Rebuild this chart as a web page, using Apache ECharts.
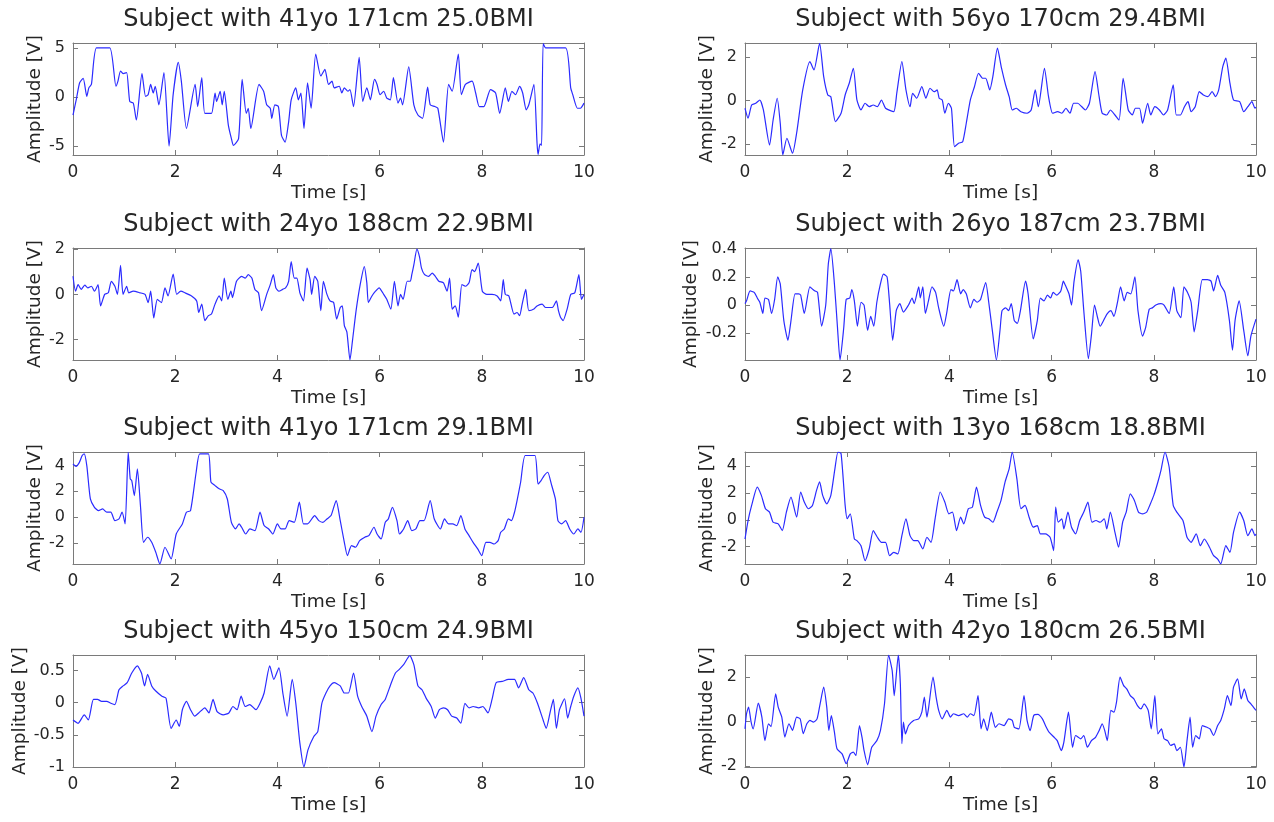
<!DOCTYPE html>
<html>
<head>
<meta charset="utf-8">
<script src="https://cdn.jsdelivr.net/npm/echarts@6/dist/echarts.min.js"></script>
<style>html,body{margin:0;padding:0;background:#fff}#c{width:1274px;height:822px}</style>
</head>
<body>
<div id="c"></div>
<script>
// ---- data (time [s], amplitude [V]) ----
const titles = [
  "Subject with 41yo 171cm 25.0BMI","Subject with 56yo 170cm 29.4BMI",
  "Subject with 24yo 188cm 22.9BMI","Subject with 26yo 187cm 23.7BMI",
  "Subject with 41yo 171cm 29.1BMI","Subject with 13yo 168cm 18.8BMI",
  "Subject with 45yo 150cm 24.9BMI","Subject with 42yo 180cm 26.5BMI"
];
const xTicks = [0, 2, 4, 6, 8, 10];
const yTicks1 = [-5, 0, 5];
const yTicks2 = [-2, 0, 2];
const yTicks3 = [-2, 0, 2];
const yTicks4 = [-0.2, 0, 0.2, 0.4];
const yTicks5 = [-2, 0, 2, 4];
const yTicks6 = [-2, 0, 2, 4];
const yTicks7 = [-1, -0.5, 0, 0.5];
const yTicks8 = [-2, 0, 2];
const yRange1 = [-5.9, 5.5];
const yRange2 = [-2.5, 2.65];
const yRange3 = [-2.9, 2.05];
const yRange4 = [-0.39, 0.405];
const yRange5 = [-3.6, 5.03];
const yRange6 = [-3.3, 5.07];
const yRange7 = [-1.0, 0.74];
const yRange8 = [-2.05, 3.0];

const sig1 = [[0,-1.83],[0.07,-0.1],[0.13,1.45],[0.2,1.9],[0.27,0.07],[0.31,0.93],[0.36,1.28],[0.46,5.0],[0.72,5.0],[0.84,1.1],[0.88,1.62],[0.93,2.65],[0.98,2.38],[1.05,2.48],[1.11,-0.45],[1.18,-0.62],[1.24,-2.34],[1.35,2.38],[1.42,0.07],[1.47,0.24],[1.52,1.28],[1.57,0.41],[1.61,1.1],[1.68,-0.79],[1.78,2.48],[1.88,-5.0],[1.96,0.24],[2.06,3.52],[2.12,1.62],[2.22,-3.2],[2.39,1.28],[2.44,-0.97],[2.52,1.97],[2.58,-1.66],[2.71,-1.66],[2.78,0.41],[2.81,-0.45],[2.88,0.59],[2.92,-0.79],[2.96,0.59],[3.04,-2.86],[3.1,-4.24],[3.14,-4.93],[3.24,-4.24],[3.31,1.79],[3.39,-1.66],[3.43,-1.14],[3.48,-3.2],[3.64,1.28],[3.73,0.59],[3.79,-0.79],[3.86,-1.14],[3.89,-2.17],[3.95,-0.79],[4.02,-0.97],[4.08,-3.9],[4.15,-4.59],[4.22,-2.52],[4.27,-0.28],[4.36,0.93],[4.41,-0.28],[4.46,0.41],[4.52,-3.2],[4.59,1.45],[4.66,-1.14],[4.75,4.38],[4.85,2.14],[4.93,2.83],[5.0,1.28],[5.07,1.62],[5.11,0.93],[5.21,1.1],[5.26,0.41],[5.31,0.93],[5.38,0.59],[5.42,0.76],[5.49,-0.97],[5.6,4.03],[5.67,-0.45],[5.75,0.93],[5.82,-0.28],[5.9,1.79],[5.95,1.28],[6.01,0.24],[6.08,0.59],[6.14,-0.1],[6.21,-0.28],[6.27,1.97],[6.36,-0.62],[6.41,-0.1],[6.45,-0.79],[6.57,3.07],[6.67,-0.79],[6.75,-1.83],[6.84,-2.17],[6.94,1.0],[6.99,-0.79],[7.08,-0.97],[7.14,-1.14],[7.25,-4.59],[7.35,1.28],[7.42,0.59],[7.54,4.38],[7.6,0.24],[7.68,1.28],[7.81,1.62],[7.88,0.41],[7.95,-0.97],[8.04,-0.97],[8.17,0.76],[8.27,0.41],[8.35,-1.66],[8.46,0.93],[8.52,-0.45],[8.59,0.59],[8.66,0.24],[8.74,1.1],[8.8,0.41],[8.87,-1.31],[8.92,-0.79],[9.02,1.28],[9.08,-4.59],[9.1,-5.85],[9.14,-4.76],[9.17,-4.93],[9.2,5.45],[9.25,5.0],[9.64,5.0],[9.74,0.93],[9.78,0.24],[9.87,-1.14],[9.93,-1.14],[10,-0.62]];

const sig2 = [[0,-0.35],[0.06,-0.81],[0.13,-0.2],[0.21,-0.12],[0.29,0.03],[0.36,-0.43],[0.48,-2.04],[0.55,-0.89],[0.63,0.11],[0.69,-1.04],[0.74,-2.5],[0.82,-1.73],[0.93,-2.42],[1.01,-1.5],[1.13,0.49],[1.27,1.79],[1.35,1.41],[1.46,2.63],[1.54,1.1],[1.62,0.26],[1.68,0.18],[1.77,-0.97],[1.88,-0.58],[1.96,0.26],[2.04,0.8],[2.12,1.49],[2.19,0.03],[2.27,-0.43],[2.35,-0.12],[2.43,-0.28],[2.51,-0.2],[2.59,-0.28],[2.67,0.03],[2.75,-0.35],[2.91,-0.51],[2.97,0.34],[3.07,1.79],[3.15,0.49],[3.23,-0.28],[3.28,0.34],[3.36,0.11],[3.46,0.64],[3.54,0.11],[3.62,0.57],[3.7,0.41],[3.76,0.49],[3.8,0.11],[3.86,0.03],[3.91,-0.58],[3.98,-0.12],[4.04,-0.35],[4.1,-2.12],[4.18,-1.96],[4.26,-1.89],[4.33,-1.04],[4.41,0.03],[4.49,0.64],[4.57,1.26],[4.65,1.03],[4.71,1.03],[4.79,0.49],[4.85,1.1],[4.94,2.41],[5.02,1.49],[5.1,0.72],[5.17,0.18],[5.23,-0.43],[5.31,-0.35],[5.4,-0.51],[5.52,-0.58],[5.6,-0.43],[5.68,0.49],[5.74,-0.28],[5.86,1.49],[5.94,0.18],[6.02,-0.58],[6.12,-0.51],[6.2,-0.58],[6.28,-0.35],[6.36,-0.58],[6.43,-0.12],[6.51,-0.12],[6.59,-0.28],[6.66,-0.43],[6.74,-0.12],[6.85,1.33],[6.93,0.18],[6.99,-0.58],[7.08,-0.66],[7.15,-0.43],[7.24,-0.66],[7.32,-0.89],[7.4,1.03],[7.5,-0.43],[7.58,-0.66],[7.64,-0.35],[7.72,-0.35],[7.78,-1.04],[7.88,-0.12],[7.94,-0.66],[8.02,-0.28],[8.11,-0.43],[8.19,-0.66],[8.27,-0.43],[8.38,0.72],[8.44,-0.66],[8.52,-0.66],[8.6,-0.28],[8.67,-0.05],[8.73,-0.51],[8.81,-0.28],[8.89,0.41],[8.97,0.26],[9.06,0.18],[9.14,0.41],[9.21,0.18],[9.27,0.49],[9.35,1.56],[9.41,1.95],[9.49,0.8],[9.56,0.03],[9.68,-0.05],[9.76,-0.51],[9.84,-0.28],[9.92,-0.05],[9.98,-0.35],[10,-0.3]];

const sig3 = [[0,0.8],[0.05,0.14],[0.1,0.43],[0.16,0.22],[0.23,0.41],[0.29,0.29],[0.36,0.36],[0.42,0.14],[0.49,0.43],[0.54,-0.51],[0.62,0],[0.69,0.07],[0.75,0.58],[0.82,0.36],[0.87,0],[0.93,1.28],[0.98,0],[1.05,0.36],[1.09,0.07],[1.18,0.14],[1.31,0.07],[1.41,0],[1.47,-0.36],[1.52,0.14],[1.58,-1.04],[1.65,-0.22],[1.73,-0.36],[1.8,0.29],[1.86,-0.07],[1.96,0.9],[2.03,0],[2.11,0.14],[2.19,0.07],[2.32,-0.07],[2.42,-0.29],[2.46,-0.8],[2.52,-0.43],[2.58,-1.16],[2.65,-0.94],[2.71,-0.87],[2.78,-0.43],[2.86,-0.07],[2.91,-0.29],[2.96,0.72],[3.03,-0.22],[3.09,0.14],[3.12,-0.14],[3.2,0.58],[3.3,0.8],[3.37,0.72],[3.43,0.87],[3.5,0.72],[3.56,0.22],[3.63,0.07],[3.69,-0.72],[3.79,0],[3.86,0.43],[3.92,0.87],[3.97,0.29],[4.03,0.14],[4.1,0.22],[4.16,0.29],[4.22,0.58],[4.27,1.45],[4.33,0.72],[4.38,0.72],[4.44,0.07],[4.51,-0.29],[4.58,1.16],[4.64,0.65],[4.67,0],[4.73,0.8],[4.79,0.58],[4.85,-0.72],[4.9,0.58],[4.97,0],[5.03,-0.29],[5.1,-0.36],[5.16,-1.09],[5.23,-0.58],[5.27,-0.51],[5.31,-1.38],[5.36,-1.67],[5.42,-2.9],[5.47,-2.03],[5.54,-0.72],[5.62,0.43],[5.7,1.23],[5.75,0.51],[5.78,-0.36],[5.85,-0.07],[5.92,0.14],[5.99,0.29],[6.08,0],[6.14,-0.22],[6.22,-0.65],[6.29,0.58],[6.36,-0.51],[6.41,0],[6.46,-0.22],[6.54,0.58],[6.6,0.58],[6.63,0.87],[6.67,1.3],[6.73,2.0],[6.78,1.67],[6.82,1.16],[6.88,0.87],[6.96,0.8],[7.03,0.94],[7.09,0.8],[7.16,0.58],[7.25,0.51],[7.32,0.14],[7.37,0.72],[7.42,-0.65],[7.48,-0.51],[7.54,-1.01],[7.61,0.43],[7.68,0.36],[7.75,0.51],[7.81,1.09],[7.86,1.01],[7.93,1.38],[8.01,0.14],[8.1,0],[8.2,0],[8.3,-0.07],[8.37,-0.29],[8.42,0.65],[8.46,0],[8.53,-0.07],[8.63,-0.87],[8.69,-0.8],[8.74,-0.94],[8.79,-0.43],[8.86,0.22],[8.92,-0.72],[9.02,-0.65],[9.08,-0.51],[9.18,-0.43],[9.25,-0.58],[9.38,-0.58],[9.46,-0.29],[9.5,-0.72],[9.54,-1.01],[9.59,-1.16],[9.67,-0.65],[9.74,0],[9.82,0.07],[9.9,0.87],[9.95,-0.22],[10,0]];

const sig4 = [[0,0.01],[0.03,0.03],[0.1,0.1],[0.18,0.09],[0.24,0.05],[0.29,0.02],[0.35,-0.06],[0.39,0.05],[0.46,0.04],[0.52,-0.06],[0.58,0.04],[0.64,0.2],[0.69,0.15],[0.76,-0.11],[0.84,-0.25],[0.9,-0.11],[0.98,0.08],[1.05,0.08],[1.09,0.07],[1.16,-0.06],[1.27,0.13],[1.33,0.11],[1.37,0.1],[1.42,0.09],[1.5,-0.15],[1.58,0],[1.63,0.29],[1.68,0.4],[1.75,0.15],[1.81,-0.16],[1.86,-0.39],[1.93,-0.17],[1.98,0.04],[2.05,0.05],[2.09,0.11],[2.14,0.03],[2.2,-0.15],[2.27,0.02],[2.33,0],[2.4,-0.18],[2.46,-0.08],[2.52,-0.15],[2.58,0.02],[2.65,0.15],[2.71,0.22],[2.78,0.2],[2.83,0.01],[2.89,-0.25],[2.96,-0.04],[3.03,0.01],[3.1,-0.05],[3.2,0],[3.27,0.05],[3.31,0.01],[3.4,0.13],[3.43,0.05],[3.48,0.13],[3.53,-0.06],[3.59,0.03],[3.66,0.13],[3.73,0.09],[3.79,-0.02],[3.89,-0.15],[3.95,-0.05],[4.03,0.11],[4.08,0.1],[4.15,0.18],[4.22,0.08],[4.27,0.11],[4.33,0.08],[4.41,-0.02],[4.48,0.04],[4.54,0.02],[4.61,0.04],[4.71,0.16],[4.77,0.02],[4.84,-0.18],[4.92,-0.39],[4.99,-0.18],[5.03,-0.04],[5.1,-0.02],[5.16,-0.04],[5.21,0.01],[5.27,-0.11],[5.33,-0.13],[5.39,-0.04],[5.49,0.17],[5.54,0.08],[5.64,-0.24],[5.72,-0.11],[5.78,0.05],[5.85,0.03],[5.92,0.07],[5.98,0.05],[6.03,0.09],[6.1,0.07],[6.18,0.1],[6.23,0.17],[6.27,0.14],[6.34,0.08],[6.39,0],[6.44,0.17],[6.52,0.32],[6.57,0.24],[6.63,-0.04],[6.72,-0.38],[6.78,-0.21],[6.84,0],[6.9,-0.09],[6.95,-0.15],[7.03,-0.1],[7.09,-0.06],[7.16,-0.04],[7.22,-0.08],[7.29,0.02],[7.35,0.13],[7.42,0.03],[7.48,0.09],[7.55,0.08],[7.63,0.2],[7.69,-0.04],[7.78,-0.22],[7.84,-0.16],[7.91,-0.03],[7.97,-0.02],[8.04,0],[8.14,0.01],[8.2,0],[8.3,-0.06],[8.39,0.13],[8.45,-0.04],[8.53,-0.09],[8.59,0.13],[8.66,0.09],[8.73,0.02],[8.79,-0.19],[8.86,-0.04],[8.95,0.18],[9.05,0.18],[9.12,0.17],[9.17,0.1],[9.25,0.21],[9.31,0.14],[9.39,0.09],[9.48,-0.11],[9.54,-0.32],[9.59,-0.11],[9.67,0.03],[9.76,-0.18],[9.84,-0.36],[9.9,-0.22],[10,-0.1]];

const sig5 = [[0,4.11],[0.06,3.93],[0.12,4.19],[0.18,4.76],[0.22,4.88],[0.27,3.98],[0.34,1.41],[0.42,0.77],[0.5,0.51],[0.58,0.64],[0.66,0.39],[0.74,0.39],[0.82,-0.26],[0.9,-0.13],[0.96,0.39],[1.02,-0.51],[1.08,5.0],[1.12,2.96],[1.15,2.83],[1.2,1.67],[1.26,3.73],[1.32,0.9],[1.38,-1.93],[1.46,-1.54],[1.54,-1.93],[1.62,-2.7],[1.7,-3.6],[1.8,-2.31],[1.92,-3.21],[2.02,-1.29],[2.14,-0.51],[2.22,0.39],[2.3,0.51],[2.41,3.47],[2.48,4.88],[2.65,4.88],[2.7,2.7],[2.78,2.44],[2.86,2.19],[2.94,2.06],[3.02,1.41],[3.1,-0.39],[3.18,-0.9],[3.25,-0.51],[3.3,-0.77],[3.38,-1.29],[3.46,-0.9],[3.56,-1.03],[3.66,0.39],[3.74,-0.64],[3.83,-0.9],[3.91,-1.29],[4.0,-0.51],[4.07,-0.9],[4.15,-0.9],[4.23,-0.26],[4.33,-0.39],[4.43,1.16],[4.51,-0.51],[4.59,-0.51],[4.73,0.13],[4.81,-0.26],[4.89,-0.39],[4.97,-0.13],[5.05,0.13],[5.15,1.29],[5.23,-0.26],[5.31,-1.93],[5.37,-2.96],[5.45,-2.19],[5.53,-2.31],[5.61,-1.8],[5.71,-1.54],[5.79,-1.41],[5.89,-0.77],[5.95,-1.29],[6.03,-1.67],[6.11,-0.39],[6.17,-0.13],[6.25,0.77],[6.34,-0.26],[6.39,-1.29],[6.47,-0.9],[6.55,-0.26],[6.63,-1.03],[6.71,-0.9],[6.79,-0.26],[6.87,-0.26],[6.99,1.29],[7.07,-0.13],[7.19,-0.9],[7.27,-0.13],[7.35,-0.51],[7.43,-0.51],[7.51,-0.64],[7.59,0.13],[7.67,-0.9],[7.75,-1.41],[7.83,-1.93],[7.92,-2.44],[8.0,-2.96],[8.08,-1.93],[8.16,-1.93],[8.24,-2.06],[8.32,-1.8],[8.37,-1.16],[8.44,-0.9],[8.52,-0.13],[8.58,-0.26],[8.64,0.39],[8.69,1.29],[8.76,2.7],[8.85,4.76],[9.04,4.76],[9.1,2.57],[9.16,2.83],[9.22,3.21],[9.29,3.47],[9.36,2.57],[9.44,1.41],[9.49,-0.26],[9.56,-0.51],[9.64,-0.26],[9.72,-0.9],[9.8,-1.29],[9.88,-0.9],[9.94,-1.16],[10,0]];

const sig6 = [[0,-1.43],[0.06,-0.05],[0.13,1.08],[0.24,2.45],[0.32,1.83],[0.4,0.83],[0.48,0.58],[0.55,-0.18],[0.65,-0.3],[0.73,-0.8],[0.81,0.58],[0.9,1.7],[1.01,0.2],[1.09,2.08],[1.16,1.33],[1.24,0.83],[1.32,1.08],[1.4,2.2],[1.46,2.83],[1.52,1.83],[1.6,1.2],[1.68,1.83],[1.76,3.83],[1.82,5.07],[1.88,4.95],[1.96,1.08],[2.0,0.08],[2.06,0.45],[2.14,-1.43],[2.19,-1.55],[2.27,-1.93],[2.35,-3.05],[2.43,-2.18],[2.51,-0.8],[2.59,-1.3],[2.67,-1.68],[2.75,-1.68],[2.83,-2.68],[2.91,-2.43],[2.99,-2.55],[3.07,-1.18],[3.15,0.08],[3.23,-1.18],[3.3,-1.55],[3.38,-1.55],[3.48,-2.18],[3.56,-1.3],[3.64,-1.68],[3.72,0.08],[3.82,2.08],[3.91,1.33],[3.99,0.45],[4.06,0.58],[4.14,-0.8],[4.22,0.2],[4.28,-0.3],[4.37,0.83],[4.45,0.95],[4.53,2.45],[4.61,1.08],[4.69,0.2],[4.77,0.08],[4.85,-0.18],[4.93,0.58],[5.01,1.45],[5.09,2.83],[5.17,3.83],[5.23,5.07],[5.32,3.08],[5.4,0.83],[5.48,1.08],[5.56,0.2],[5.64,-0.55],[5.72,-0.43],[5.78,-1.05],[5.88,-1.05],[5.97,-1.3],[6.04,-2.3],[6.08,0.95],[6.13,-0.18],[6.2,0.08],[6.24,-0.68],[6.32,0.58],[6.39,-0.55],[6.47,-1.05],[6.55,-0.05],[6.63,0.58],[6.71,1.33],[6.79,-0.18],[6.87,-0.05],[6.95,-0.18],[7.03,0.08],[7.08,-0.68],[7.15,0.58],[7.24,-0.93],[7.31,-2.05],[7.39,-0.18],[7.46,0.58],[7.54,1.95],[7.62,1.45],[7.7,0.58],[7.78,0.45],[7.86,0.58],[7.92,1.08],[8.0,1.83],[8.08,2.83],[8.14,3.7],[8.22,5.07],[8.3,3.95],[8.38,1.08],[8.45,0.58],[8.57,-0.05],[8.65,-1.3],[8.73,-1.68],[8.83,-1.05],[8.91,-1.93],[8.99,-1.43],[9.09,-2.05],[9.17,-2.68],[9.25,-2.93],[9.31,-3.3],[9.41,-1.93],[9.49,-2.43],[9.56,-0.93],[9.68,0.58],[9.76,-0.05],[9.84,-1.18],[9.92,-0.68],[9.98,-1.18],[10,-1.05]];

const sig7 = [[0,-0.27],[0.1,-0.32],[0.22,-0.19],[0.3,-0.27],[0.4,0.05],[0.48,0.05],[0.56,0.02],[0.66,0.02],[0.74,-0.01],[0.82,-0.03],[0.9,0.2],[0.98,0.26],[1.06,0.31],[1.15,0.46],[1.26,0.57],[1.34,0.46],[1.4,0.26],[1.46,0.44],[1.54,0.26],[1.62,0.18],[1.74,0.1],[1.82,0.07],[1.92,-0.4],[2.02,-0.27],[2.08,-0.37],[2.14,-0.11],[2.22,0.02],[2.3,-0.11],[2.38,-0.21],[2.46,-0.16],[2.58,-0.08],[2.66,-0.16],[2.74,0.05],[2.82,-0.14],[2.94,-0.19],[3.05,-0.16],[3.13,-0.06],[3.21,-0.11],[3.29,0.1],[3.37,-0.06],[3.46,-0.03],[3.58,-0.11],[3.66,-0.01],[3.74,0.15],[3.85,0.57],[3.93,0.36],[4.03,0.54],[4.11,0.13],[4.19,-0.21],[4.29,0.36],[4.36,-0.01],[4.44,-0.63],[4.52,-1.0],[4.6,-0.73],[4.71,-0.53],[4.79,-0.45],[4.87,-0.01],[4.95,0.15],[5.03,0.26],[5.11,0.31],[5.23,0.26],[5.31,0.15],[5.39,0.15],[5.49,0.46],[5.57,0.1],[5.65,-0.06],[5.75,-0.21],[5.85,-0.45],[5.93,-0.21],[6.03,-0.03],[6.11,0.05],[6.23,0.31],[6.31,0.46],[6.39,0.52],[6.47,0.59],[6.59,0.73],[6.67,0.59],[6.75,0.26],[6.83,0.2],[6.91,0.07],[7.01,-0.06],[7.09,-0.24],[7.17,-0.11],[7.25,-0.08],[7.33,-0.11],[7.41,-0.21],[7.51,-0.24],[7.59,-0.32],[7.67,-0.01],[7.75,-0.08],[7.83,-0.06],[7.94,-0.08],[8.02,-0.06],[8.12,-0.16],[8.2,0.05],[8.28,0.31],[8.4,0.33],[8.52,0.36],[8.64,0.36],[8.72,0.23],[8.82,0.39],[8.92,0.2],[9.0,0.15],[9.09,-0.01],[9.2,-0.27],[9.26,-0.4],[9.34,-0.14],[9.4,0.05],[9.46,-0.4],[9.52,-0.11],[9.62,0.06],[9.68,-0.24],[9.74,-0.06],[9.8,0.1],[9.88,0.23],[9.94,0.07],[10,-0.21]];

const sig8 = [[0,-0.33],[0.03,0.35],[0.07,0.65],[0.12,-0.03],[0.16,-0.33],[0.26,0.83],[0.33,0.2],[0.39,-0.86],[0.46,-0.1],[0.51,-0.23],[0.6,1.25],[0.65,0.65],[0.72,0.2],[0.78,-0.7],[0.86,-0.1],[0.93,-0.4],[1.01,0.2],[1.08,0.12],[1.14,-0.55],[1.21,-0.1],[1.27,0.05],[1.34,-0.03],[1.41,0.12],[1.47,0.8],[1.54,1.55],[1.6,0.65],[1.64,-0.4],[1.69,0.27],[1.75,-0.48],[1.8,-1.23],[1.9,-1.46],[1.98,-1.9],[2.06,-1.46],[2.12,-1.38],[2.17,-1.53],[2.24,-0.18],[2.29,-0.71],[2.33,-1.31],[2.4,-1.95],[2.48,-1.16],[2.58,-0.86],[2.65,-0.41],[2.73,0.8],[2.81,3.0],[2.88,2.3],[2.92,1.17],[3.0,3.0],[3.04,1.7],[3.07,-1.0],[3.1,-0.03],[3.14,-0.56],[3.2,-0.18],[3.3,0.05],[3.4,0.12],[3.46,0.42],[3.51,1.1],[3.56,0.2],[3.59,0.57],[3.68,2.0],[3.74,1.1],[3.79,0.5],[3.86,0.12],[3.95,0.5],[4.02,0.2],[4.08,0.35],[4.18,0.27],[4.28,0.35],[4.35,0.2],[4.41,0.35],[4.48,0.27],[4.56,1.17],[4.62,-0.33],[4.67,0.12],[4.74,-0.41],[4.82,0.42],[4.9,-0.26],[4.97,-0.1],[5.07,-0.18],[5.16,0.12],[5.23,0.05],[5.27,-0.26],[5.36,-0.33],[5.46,1.17],[5.52,0.05],[5.58,-0.41],[5.65,0.27],[5.73,0.32],[5.82,0.12],[5.88,-0.18],[5.95,-0.48],[6.05,-0.71],[6.11,-0.86],[6.19,-1.31],[6.24,-0.93],[6.33,0.42],[6.41,-1.16],[6.47,-0.63],[6.57,-0.78],[6.63,-0.63],[6.7,-1.16],[6.78,-0.86],[6.86,-0.71],[6.93,-0.41],[6.99,-0.1],[7.04,-0.41],[7.09,-0.86],[7.16,0.5],[7.22,0.42],[7.27,0.87],[7.34,2.0],[7.41,1.62],[7.47,1.47],[7.54,1.17],[7.61,1.02],[7.68,0.72],[7.75,0.57],[7.81,0.8],[7.89,0.5],[7.95,-0.33],[8.02,1.17],[8.08,-0.56],[8.15,-0.33],[8.2,-0.78],[8.27,-0.86],[8.33,-1.08],[8.4,-1.01],[8.45,-1.31],[8.52,-1.16],[8.59,-2.05],[8.65,-0.86],[8.71,0.2],[8.76,-1.16],[8.82,-0.63],[8.89,-0.78],[8.95,-0.18],[9.04,-0.26],[9.1,-0.33],[9.17,-0.63],[9.25,-0.18],[9.31,0.05],[9.38,0.57],[9.44,1.17],[9.51,0.72],[9.56,1.55],[9.64,1.92],[9.71,1.02],[9.77,1.47],[9.84,0.95],[9.9,0.8],[10,0.5]];

// ---- layout ----
const signals = [sig1, sig2, sig3, sig4, sig5, sig6, sig7, sig8];
const yTicks = [yTicks1, yTicks2, yTicks3, yTicks4, yTicks5, yTicks6, yTicks7, yTicks8];
const yRanges = [yRange1, yRange2, yRange3, yRange4, yRange5, yRange6, yRange7, yRange8];
const colLeft = [73, 745];
const plotW = 511, plotH = 112;
const rowTop = [43, 248, 452, 655];
const yNameGap = [28, 28, 28, 44, 28, 28, 43, 28];

const FONT = 'DejaVu Sans';
const TXT = '#262626';
const BOX = '#7a7a7a';

const grid = [], xAxis = [], yAxis = [], series = [], graphic = [];
for (let i = 0; i < 8; i++) {
  const col = i % 2, row = Math.floor(i / 2);
  const left = colLeft[col], top = rowTop[row];
  grid.push({left: left, top: top, width: plotW, height: plotH, show: false, containLabel: false});
  const lineS = {show: true, onZero: false, lineStyle: {color: BOX, width: 1}};
  const tickS = {show: true, inside: true, length: 5, lineStyle: {color: BOX, width: 1}};
  xAxis.push({
    type: 'value', gridIndex: i, min: 0, max: 10, interval: 2, position: 'bottom',
    axisLine: lineS, axisTick: tickS, splitLine: {show: false},
    axisLabel: {color: TXT, fontFamily: FONT, fontSize: 17, margin: 9, customValues: xTicks},
    name: 'Time [s]', nameLocation: 'middle', nameGap: 29, nameMoveOverlap: false,
    nameTextStyle: {color: TXT, fontFamily: FONT, fontSize: 18.5}
  });
  yAxis.push({
    type: 'value', gridIndex: i, min: yRanges[i][0], max: yRanges[i][1], position: 'left',
    axisLine: lineS, axisTick: Object.assign({}, tickS, {customValues: yTicks[i]}), splitLine: {show: false},
    axisLabel: {color: TXT, fontFamily: FONT, fontSize: 16, margin: 8, customValues: yTicks[i]},
    name: 'Amplitude [V]', nameLocation: 'middle', nameGap: yNameGap[i], nameRotate: 90, nameMoveOverlap: false,
    nameTextStyle: {color: TXT, fontFamily: FONT, fontSize: 18.5}
  });
  series.push({
    type: 'line', xAxisIndex: i, yAxisIndex: i, data: signals[i],
    showSymbol: false, symbol: 'none', smooth: 0.2, clip: true,
    lineStyle: {color: '#2b2bff', width: 1.2}, animation: false
  });
  graphic.push({
    type: 'text', x: left + plotW / 2, y: top - 23,
    style: {text: titles[i], fill: TXT, fontFamily: FONT, fontSize: 24, align: 'center', verticalAlign: 'middle'}
  });
}
// top and right box sides with inward ticks
for (let i = 0; i < 8; i++) {
  const lineS = {show: true, onZero: false, lineStyle: {color: BOX, width: 1}};
  xAxis.push({
    type: 'value', gridIndex: i, min: 0, max: 10, interval: 2, position: 'top',
    axisLine: lineS, axisTick: {show: true, inside: true, length: 5, lineStyle: {color: BOX}},
    axisLabel: {show: false}, splitLine: {show: false}
  });
  yAxis.push({
    type: 'value', gridIndex: i, min: yRanges[i][0], max: yRanges[i][1], position: 'right',
    axisLine: lineS, axisTick: {show: true, inside: true, length: 5, lineStyle: {color: BOX}, customValues: yTicks[i]},
    axisLabel: {show: false, customValues: yTicks[i]}, splitLine: {show: false}
  });
}

const chart = echarts.init(document.getElementById('c'), null, {renderer: 'canvas'});
chart.setOption({
  animation: false, backgroundColor: '#ffffff',
  grid: grid, xAxis: xAxis, yAxis: yAxis, series: series, graphic: graphic
});
</script>
</body>
</html>
